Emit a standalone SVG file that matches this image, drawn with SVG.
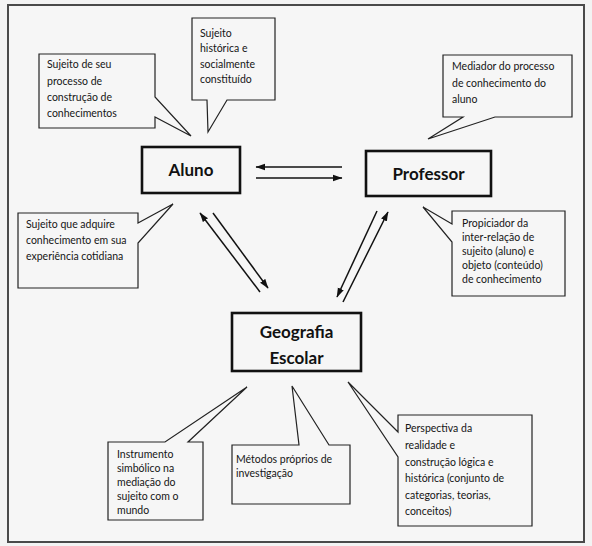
<svg xmlns="http://www.w3.org/2000/svg" width="592" height="546" viewBox="0 0 592 546">
<defs>
<style>
.bg{fill:#f3f3f3}
.frame{fill:#f6f6f6;stroke:#4a4a4a;stroke-width:2}
.node{fill:#f6f6f6;stroke:#111;stroke-width:2.6}
.call{fill:#f6f6f6;stroke:#222;stroke-width:1.2;stroke-linejoin:miter}
.title{font-family:Lato,"Liberation Sans",sans-serif;font-weight:bold;font-size:17px;fill:#111;text-anchor:middle}
.txt{font-family:Lato,"Liberation Sans",sans-serif;font-size:10.5px;fill:#151515}
.arr{stroke:#111;stroke-width:1.5;fill:none;marker-end:url(#ah)}
</style>
<marker id="ah" markerUnits="userSpaceOnUse" markerWidth="10" markerHeight="8" refX="9" refY="4" orient="auto">
<path d="M0,0.8 L9.5,4 L0,7.2 Z" fill="#111"/>
</marker>
</defs>
<rect class="bg" x="0" y="0" width="592" height="546"/>
<rect class="frame" x="8" y="5" width="576" height="537"/>

<g id="connectors">
<line class="arr" x1="342" y1="167" x2="256" y2="167"/>
<line class="arr" x1="256" y1="178" x2="342" y2="178"/>
<line class="arr" x1="260" y1="292" x2="200" y2="213"/>
<line class="arr" x1="213" y1="213" x2="268" y2="288"/>
<line class="arr" x1="377" y1="211" x2="337" y2="297"/>
<line class="arr" x1="343" y1="302" x2="388" y2="212"/>
</g>

<g id="aluno">
<rect class="node" x="142" y="147" width="98" height="46"/>
<text class="title" x="191" y="176">Aluno</text>
</g>
<g id="professor">
<rect class="node" x="366" y="151" width="125" height="45"/>
<text class="title" x="428.5" y="180">Professor</text>
</g>
<g id="geografia">
<rect class="node" x="232" y="313" width="129" height="58"/>
<text class="title" x="296.5" y="338">Geografia</text>
<text class="title" x="296.5" y="364">Escolar</text>
</g>

<g id="c-sujeito-processo">
<path class="call" d="M39,54 H155 V97 L191,136 L155,117 V128 H39 Z"/>
<text class="txt" x="47" y="68">Sujeito de seu</text>
<text class="txt" x="47" y="84.5">processo de</text>
<text class="txt" x="47" y="101">construção de</text>
<text class="txt" x="47" y="117">conhecimentos</text>
</g>
<g id="c-sujeito-historica">
<path class="call" d="M192,18 H275 V100 H227 L208,132 L207,100 H192 Z"/>
<text class="txt" x="200" y="37">Sujeito</text>
<text class="txt" x="200" y="52">histórica e</text>
<text class="txt" x="200" y="67.5">socialmente</text>
<text class="txt" x="200" y="83">constituído</text>
</g>
<g id="c-mediador">
<path class="call" d="M443,55 H572 V117 H495 L428,139 L463,117 H443 Z"/>
<text class="txt" x="452" y="70">Mediador do processo</text>
<text class="txt" x="452" y="86.5">de conhecimento do</text>
<text class="txt" x="452" y="103">aluno</text>
</g>
<g id="c-sujeito-adquire">
<path class="call" d="M18,213 H138 V223 L173,204 L138,243 V288 H18 Z"/>
<text class="txt" x="26" y="228">Sujeito que adquire</text>
<text class="txt" x="26" y="244">conhecimento em sua</text>
<text class="txt" x="26" y="260">experiência cotidiana</text>
</g>
<g id="c-propiciador">
<path class="call" d="M452,211 H565 V296 H452 V242 L423,207 L452,224 Z"/>
<text class="txt" x="462" y="227">Propiciador da</text>
<text class="txt" x="462" y="241">inter-relação de</text>
<text class="txt" x="462" y="255">sujeito (aluno) e</text>
<text class="txt" x="462" y="269">objeto (conteúdo)</text>
<text class="txt" x="462" y="283">de conhecimento</text>
</g>
<g id="c-instrumento">
<path class="call" d="M108,442 H165 L247,387 L188,442 H203 V520 H108 Z"/>
<text class="txt" x="117" y="458">Instrumento</text>
<text class="txt" x="117" y="472">simbólico na</text>
<text class="txt" x="117" y="486">mediação do</text>
<text class="txt" x="117" y="500">sujeito com o</text>
<text class="txt" x="117" y="513.5">mundo</text>
</g>
<g id="c-metodos">
<path class="call" d="M232,445 H299 L292,386 L329,445 H350 V504 H232 Z"/>
<text class="txt" x="236" y="463">Métodos próprios de</text>
<text class="txt" x="236" y="477">investigação</text>
</g>
<g id="c-perspectiva">
<path class="call" d="M398,415 H532 V526 H398 V457 L348,382 L398,432 Z"/>
<text class="txt" x="405" y="432">Perspectiva da</text>
<text class="txt" x="405" y="449">realidade e</text>
<text class="txt" x="405" y="465.5">construção lógica e</text>
<text class="txt" x="405" y="482">histórica (conjunto de</text>
<text class="txt" x="405" y="498.5">categorias, teorias,</text>
<text class="txt" x="405" y="515">conceitos)</text>
</g>
</svg>
